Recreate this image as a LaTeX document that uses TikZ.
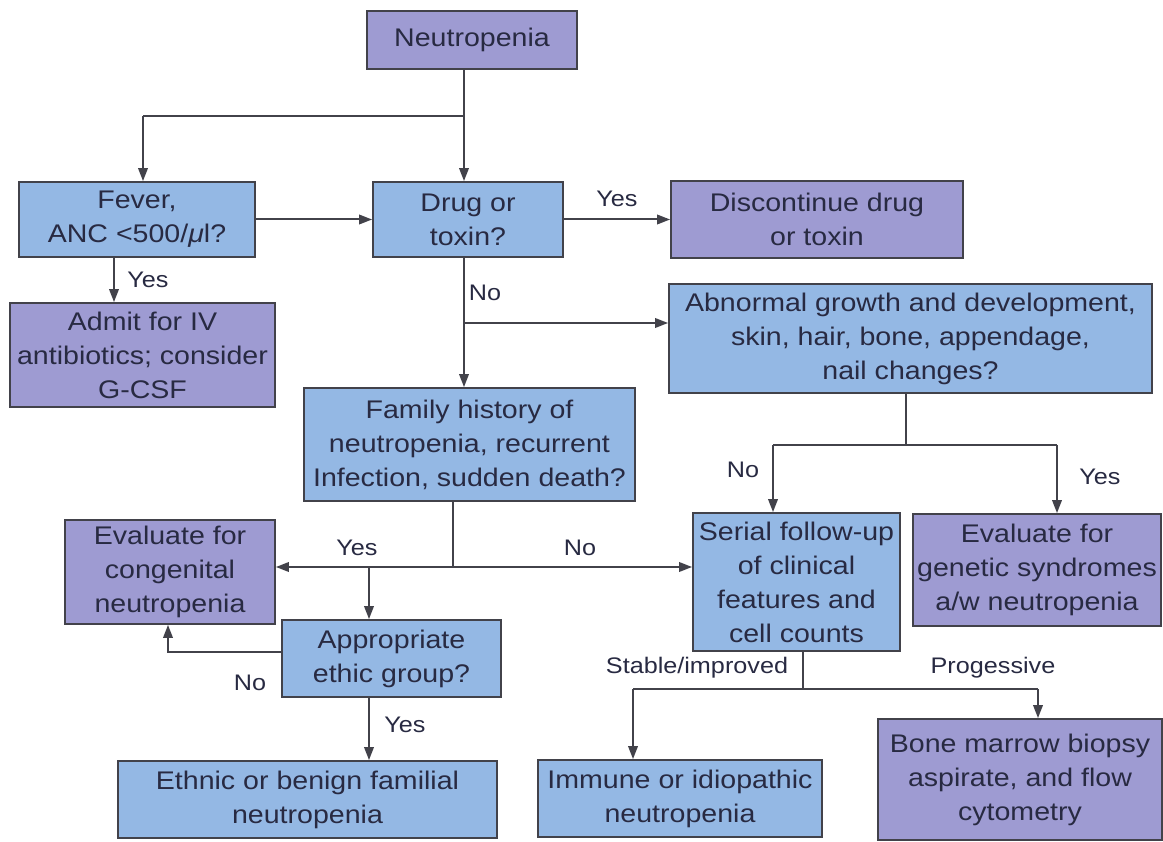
\documentclass[tikz,border=0pt]{standalone}
\usepackage{fontspec}
\setmainfont{Liberation Sans}[FakeStretch=1.12]
\usetikzlibrary{arrows.meta}
\definecolor{boxblue}{RGB}{148,184,228}
\definecolor{boxpurple}{RGB}{158,155,210}
\definecolor{edgec}{RGB}{66,66,74}
\definecolor{txtc}{RGB}{40,42,66}
\begin{document}
\begin{tikzpicture}[x=1pt,y=-1pt,
  box/.style={draw=edgec, line width=1.8pt, inner sep=0pt, align=center, text=txtc,
    font=\fontsize{25.5}{34}\selectfont},
  bbox/.style={box, fill=boxblue},
  pbox/.style={box, fill=boxpurple},
  ln/.style={draw=edgec, line width=2pt},
  arr/.style={ln, -{Triangle[length=13pt,width=9.5pt]}},
  lab/.style={text=txtc, inner sep=0pt, font=\fontsize{22.5}{26}\selectfont}]
\useasboundingbox[fill=white] (0,0) rectangle (1163,842);

% boxes
\node[pbox, minimum width=210pt, minimum height=58pt] (neut) at (472,40) {Neutropenia};
\node[bbox, minimum width=236pt, minimum height=75pt] (fever) at (137,219.5) {Fever,\\ANC <500/{\itshape μ}l?};
\node[bbox, minimum width=190pt, minimum height=75pt] (drug) at (468,219.5) {Drug or\\toxin?};
\node[pbox, minimum width=292pt, minimum height=77pt] (disc) at (817,219.5) {Discontinue drug\\or toxin};
\node[pbox, minimum width=265pt, minimum height=104pt] (admit) at (142.5,355) {Admit for IV\\antibiotics; consider\\G-CSF};
\node[bbox, minimum width=483pt, minimum height=109pt] (abn) at (910.5,338.5) {Abnormal growth and development,\\skin, hair, bone, appendage,\\nail changes?};
\node[bbox, minimum width=331pt, minimum height=113pt] (fam) at (469.5,444.5) {Family history of\\neutropenia, recurrent\\Infection, sudden death?};
\node[pbox, minimum width=210pt, minimum height=104pt] (cong) at (170,572) {Evaluate for\\congenital\\neutropenia};
\node[bbox, minimum width=219pt, minimum height=77pt] (approp) at (391.5,658.5) {Appropriate\\ethic group?};
\node[bbox, minimum width=207pt, minimum height=138pt] (serial) at (796.5,582) {Serial follow-up\\of clinical\\features and\\cell counts};
\node[pbox, minimum width=248pt, minimum height=112pt] (genet) at (1037,570) {Evaluate for\\genetic syndromes\\a/w neutropenia};
\node[bbox, minimum width=379pt, minimum height=77pt] (ethnic) at (307.5,799.5) {Ethnic or benign familial\\neutropenia};
\node[bbox, minimum width=284pt, minimum height=77pt] (immune) at (680,798.5) {Immune or idiopathic\\neutropenia};
\node[pbox, minimum width=284pt, minimum height=121pt] (bone) at (1020,779.5) {Bone marrow biopsy\\aspirate, and flow\\cytometry};

% junctions
\coordinate (j1) at (464,116);
\coordinate (fx) at (143,116);
\coordinate (fy) at (114,257);
\coordinate (j2) at (464,323);
\coordinate (j3) at (906,445);
\coordinate (sl) at (773,445);
\coordinate (sr) at (1057,445);
\coordinate (j4) at (453,567);
\coordinate (ay) at (369,567);
\coordinate (an) at (168,652);
\coordinate (j5) at (803,689);
\coordinate (il) at (633,689);
\coordinate (ir) at (1038,689);

% connectors
\draw[ln] (neut.south -| j1) -- (j1) -- (fx);
\draw[arr] (fx) -- (fx |- fever.north);
\draw[arr] (j1) -- (j1 |- drug.north);
\draw[arr] (fever) -- (drug);
\draw[arr] (fy) -- (fy |- admit.north);
\draw[arr] (drug) -- (disc);
\draw[arr] (drug.south -| j2) -- (j2 |- fam.north);
\draw[arr] (j2) -- (j2 -| abn.west);
\draw[ln] (abn.south -| j3) -- (j3);
\draw[ln] (sl) -- (sr);
\draw[arr] (sl) -- (sl |- serial.north);
\draw[arr] (sr) -- (sr |- genet.north);
\draw[ln] (fam.south -| j4) -- (j4);
\draw[arr] (j4) -- (j4 -| cong.east);
\draw[arr] (j4) -- (j4 -| serial.west);
\draw[arr] (ay) -- (ay |- approp.north);
\draw[arr] (approp.west |- an) -- (an) -- (an |- cong.south);
\draw[arr] (approp.south -| ay) -- (ay |- ethnic.north);
\draw[ln] (serial.south -| j5) -- (j5);
\draw[ln] (il) -- (ir);
\draw[arr] (il) -- (il |- immune.north);
\draw[arr] (ir) -- (ir |- bone.north);

% labels
\node[lab] (l1) at (148,280) {Yes};
\node[lab] (l2) at (617,199) {Yes};
\node[lab] (l3) at (485,293) {No};
\node[lab] (l4) at (743,470) {No};
\node[lab] (l5) at (1100,477) {Yes};
\node[lab] (l6) at (357,548) {Yes};
\node[lab] (l7) at (580,548) {No};
\node[lab] (l8) at (250,683) {No};
\node[lab] (l9) at (405,725) {Yes};
\node[lab] (l10) at (697,668) {Stable/improved};
\node[lab] (l11) at (993,668) {Progessive};
\end{tikzpicture}
\end{document}
